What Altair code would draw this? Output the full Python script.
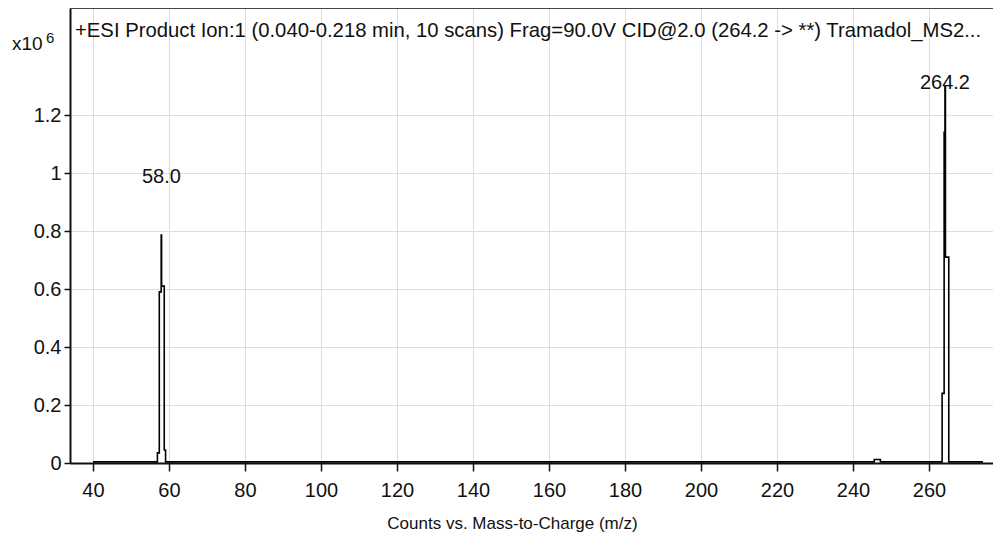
import altair as alt
import pandas as pd

# ---- data (m/z profile, intensities in x10^6 counts) ----
mz = [40.0, 56.95, 57.45, 57.95, 58.05, 58.75, 59.1, 245.6, 247.2,
      263.45, 263.98, 264.2, 264.32, 265.2, 274.2]
intensity = [0.004, 0.035, 0.59, 0.786, 0.61, 0.045, 0.004, 0.012, 0.004,
             0.24, 1.14, 1.30, 0.71, 0.004, 0.004]

peak_labels = ["58.0", "264.2"]
peak_mz = [58.0, 264.2]
peak_height = [0.786, 1.30]

x_ticks = [40, 60, 80, 100, 120, 140, 160, 180, 200, 220, 240, 260]
y_ticks = [0, 0.2, 0.4, 0.6, 0.8, 1.0, 1.2]

title_text = "+ESI Product Ion:1 (0.040-0.218 min, 10 scans) Frag=90.0V CID@2.0 (264.2 -> **) Tramadol_MS2..."
x_title = "Counts vs. Mass-to-Charge (m/z)"

FONT = "Liberation Sans, Arial, sans-serif"
W, H = 923, 455

spec_df = pd.DataFrame({"mz": mz, "intensity": intensity})
lab_df = pd.DataFrame({"label": peak_labels, "mz": peak_mz, "h": peak_height})

xs = alt.Scale(domain=[33.95, 276.84], nice=False, zero=False)
ys = alt.Scale(domain=[0, 1.569], nice=False)

spectrum = alt.Chart(spec_df).mark_line(
    interpolate="step-after", color="black", strokeWidth=1.6
).encode(
    x=alt.X("mz:Q", scale=xs, axis=alt.Axis(
        values=x_ticks, title=x_title, format="d",
        tickSize=8, labelPadding=9, titleX=442, titleY=65,
        titleAlign="center", titleAnchor="start", titleBaseline="alphabetic",
        titleFontSize=17, titleFontWeight="normal")),
    y=alt.Y("intensity:Q", scale=ys, axis=alt.Axis(
        values=y_ticks, title=None, format="~g",
        tickSize=6, labelPadding=3)),
)

labels = alt.Chart(lab_df).transform_calculate(
    ly="min(datum.h + 0.2, 1.31)"
).mark_text(fontSize=20, font=FONT, baseline="middle", align="center", color="#111").encode(
    x=alt.X("mz:Q", scale=xs),
    y=alt.Y("ly:Q", scale=ys),
    text="label:N",
)

title = alt.Chart(pd.DataFrame({"t": [title_text]})).mark_text(
    align="left", baseline="alphabetic", fontSize=20.3, font=FONT, color="#111"
).encode(x=alt.value(5), y=alt.value(29), text="t:N")

x10 = alt.Chart(pd.DataFrame({"t": ["x10"]})).mark_text(
    align="left", baseline="alphabetic", fontSize=19, font=FONT, color="#111"
).encode(x=alt.value(-58), y=alt.value(42), text="t:N")

exp6 = alt.Chart(pd.DataFrame({"t": ["6"]})).mark_text(
    align="left", baseline="alphabetic", fontSize=15, font=FONT, color="#111"
).encode(x=alt.value(-24), y=alt.value(35), text="t:N")

top_rule = alt.Chart(pd.DataFrame({"a": [0]})).mark_rule(
    color="#444", strokeWidth=2
).encode(x=alt.value(0), x2=alt.value(W), y=alt.value(0))

chart = alt.layer(spectrum, labels, title, x10, exp6, top_rule).properties(
    width=W, height=H,
    autosize=alt.AutoSizeParams(type="none"),
    padding={"left": 62, "top": 0, "right": 0, "bottom": 70},
).configure_view(stroke=None).configure_axis(
    labelFont=FONT, titleFont=FONT, labelFontSize=20, labelColor="#111",
    titleColor="#111", domainColor="#111", domainWidth=2, tickColor="#111",
    tickWidth=1.5, gridColor="#dddddd", gridWidth=1,
).configure_axisY(grid=True).configure_axisX(grid=True)

chart.save("out.html", embed_options={"renderer": "svg", "actions": False})
